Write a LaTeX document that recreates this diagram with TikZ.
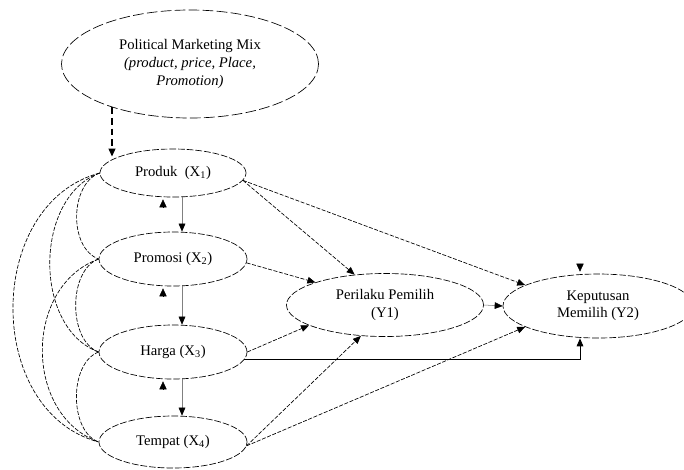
\documentclass[tikz,border=0pt]{standalone}
\usepackage{fontspec}
\setmainfont{Liberation Serif}
\usetikzlibrary{arrows.meta,shapes.geometric}

\begin{document}
\begin{tikzpicture}
        \def\px{0.75pt}
        \tikzstyle{var} = [ellipse, draw, dash pattern=on 5pt off 1.5pt, line width=0.5pt, inner sep=0pt, minimum width=148*\px, minimum height=54*\px, align=center, font=\fontsize{11}{13}\selectfont]
        \tikzstyle{link} = [dash pattern=on 3pt off 1.2pt, line width=0.5pt, -{Triangle[length=6pt, width=5pt]}]
        \tikzstyle{corr} = [dash pattern=on 3pt off 1.2pt, line width=0.5pt]
        \tikzstyle{down} = [gray, line width=0.4pt, -{Triangle[length=6pt, width=5pt, color=black]}]
        \tikzstyle{tip} = [line width=0.4pt, -{Triangle[length=6pt, width=5.5pt]}]
        \tikzstyle{solidlink} = [line width=0.7pt, -{Triangle[length=6pt, width=5pt]}]
        \useasboundingbox (0,0) rectangle (684*\px, -469*\px);
        % Draw the big ellipse for the marketing mix
        \node[ellipse, draw, dash pattern=on 8pt off 2.5pt, line width=0.5pt, minimum width=257*\px, minimum height=108*\px, align=center, font=\fontsize{11}{13.5}\selectfont] (mix) at (190*\px, -64*\px) {Political Marketing Mix\\\textit{(product, price, Place,}\\\textit{Promotion)}};
        % Draw the four X variables down the left side
        \node[var, minimum width=146*\px, minimum height=48*\px] (prod) at (173*\px, -173*\px) {Produk~ (X\textsubscript{1})};
        \node[var] (prom) at (173*\px, -259*\px) {Promosi (X\textsubscript{2})};
        \node[var] (harga) at (173*\px, -352*\px) {Harga (X\textsubscript{3})};
        \node[var, minimum height=52*\px] (temp) at (173*\px, -442*\px) {Tempat (X\textsubscript{4})};
        % Draw the two Y variables on the right
        \node[var, minimum width=197*\px, minimum height=63*\px] (peri) at (385*\px, -305*\px) {Perilaku Pemilih\\(Y1)};
        \node[var, minimum width=190*\px, minimum height=64*\px] (kep) at (598*\px, -306*\px) {Keputusan\\Memilih (Y2)};
        % Draw the thick dashed arrow from the mix down to Produk
        \coordinate (mixfoot) at (mix.209 |- prod.north);
        \draw[line width=1.3pt, dash pattern=on 5pt off 3pt, -{Triangle[length=6pt, width=5pt]}] (mix.209) -- ([yshift=-8*\px]mixfoot);
        % Draw the arrows between neighbouring X variables
        \foreach \nA/\nB in {prod/prom, prom/harga, harga/temp} {
            \draw[down] ([xshift=9*\px]\nA.south) -- ([xshift=9*\px]\nB.north);
            \draw[tip] ([xshift=-10*\px, yshift=-10*\px]\nA.south) -- ([xshift=-10*\px, yshift=-2*\px]\nA.south);
        }
        % Draw the curved correlations on the left
        \foreach \nA/\nB/\o/\i/\l in {prod/prom/200/160/0.95, prom/harga/200/160/0.9, harga/temp/200/160/0.9, prod/harga/200/160/1, prom/temp/200/160/1.12, prod/temp/195/165/1.13} {
            \draw[corr] (\nA.west) to[out=\o, in=\i, looseness=\l] (\nB.west);
        }
        % Draw the paths from the X variables to the Y variables
        \draw[link] (prod.-6) -- (peri.135);
        \draw[link] (prod.-6) -- (kep.164);
        \draw[link] (prom.-3) -- (peri.162);
        \draw[link] (harga.east) -- (peri.195);
        \draw[link] (temp.-3) -- (peri.232);
        \draw[link] (temp.-3) -- (kep.196);
        % Draw the solid line from Harga into Keputusan
        \draw[solidlink] (harga.-6) -| ([xshift=-18*\px]kep.south);
        % Draw the arrow from Perilaku to Keputusan and the tip on top
        \draw[down] (peri.east) -- (kep.west);
        \draw[tip] ([xshift=-18*\px, yshift=10*\px]kep.north) -- ([xshift=-18*\px, yshift=2*\px]kep.north);
\end{tikzpicture}
\end{document}
